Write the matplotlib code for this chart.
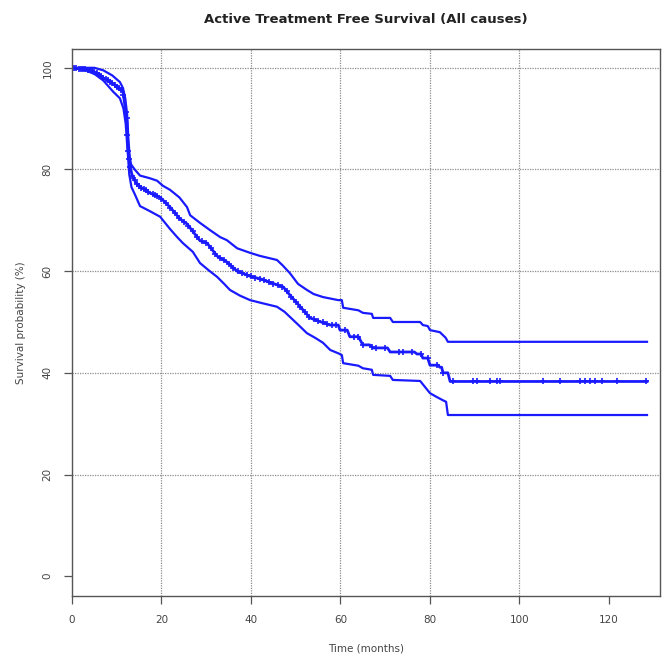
import matplotlib
matplotlib.use("Agg")
import matplotlib.pyplot as plt
import numpy as np

# ---- data ----
est_t = [0, 2, 4, 5.5, 7, 8.5, 10, 11.4, 11.8, 12.3, 12.5, 13, 13.4, 14.2, 15.2, 17.4, 19.7, 21.9,
         24.1, 25.7, 28.6, 30.2, 32.4, 34.6, 36.9, 39.8, 42, 44.9, 47.2, 48.5, 50.3, 53.2, 55,
         57.7, 59.5, 59.9, 61.5, 62.1, 64, 65, 66.5, 67.3, 70.5, 71.1, 76.5, 77.1, 78, 78.4, 79.5,
         80, 81.8, 82.2, 82.6, 82.9, 84, 84.5, 128.5]
est_s = [100, 99.8, 99.6, 99, 98, 97.3, 96.3, 95.3, 92.7, 89.4, 84.3, 80.5, 79, 77.5, 76.6, 75.4,
         74.5, 72.6, 70.3, 69.3, 66, 65.5, 63, 61.8, 60, 59, 58.5, 57.6, 56.9, 55.5, 53.7, 50.8,
         50.2, 49.4, 49.4, 48.4, 48.4, 47.1, 47.1, 45.5, 45.5, 44.9, 44.9, 44.1, 44.1, 43.7, 43.7,
         42.9, 42.9, 41.5, 41.5, 41.1, 41.1, 40, 40, 38.3, 38.3]

up_t = [0, 5, 7, 9, 10.7, 11.4, 11.9, 12.3, 12.6, 12.9, 13.2, 14, 15.2, 17.3, 19, 20.3, 21.9, 24,
        25.7, 26.4, 28.6, 30.8, 33.1, 34.6, 36.9, 39.8, 42, 45.8, 47, 48.7, 50.5, 52.5, 54, 56.1,
        59.5, 60.3, 60.6, 64, 65, 67, 67.3, 71.1, 71.7, 77.8, 78.4, 79.5, 80, 82.2, 83.5, 84,
        128.5]
up_s = [100, 100, 99.5, 98.5, 97.2, 96, 94, 91, 86, 82.5, 81, 80, 78.8, 78.3, 77.8, 76.8, 76, 74.5,
        72.6, 71, 69.5, 68.1, 66.7, 66.1, 64.5, 63.6, 63, 62.2, 61.2, 59.6, 57.5, 56.3, 55.5, 54.9,
        54.3, 54.3, 52.8, 52.3, 51.8, 51.6, 50.8, 50.8, 50, 50, 49.4, 49.2, 48.4, 48, 46.9, 46.1,
        46.1]

lo_t = [0, 3, 5, 7, 9.2, 10.7, 11.5, 12, 12.4, 12.8, 13.3, 14, 15.2, 17.4, 19.7, 21.9, 23.5, 24.8,
        27, 28.6, 30.5, 32.4, 34, 35.3, 37.5, 39.8, 42.5, 45.8, 47.5, 48.7, 50.5, 52.5, 54.5, 56.1,
        57.7, 59.6, 60.3, 60.6, 64, 65, 67, 67.3, 71.1, 71.7, 77.8, 78.9, 80, 81.6, 82.9, 83.6, 84,
        128.5]
lo_s = [100, 99.5, 98.8, 97.5, 95.3, 94, 92, 89, 84, 79, 76.5, 75.2, 72.8, 71.8, 70.7, 68.3, 66.7,
        65.5, 63.8, 61.6, 60.2, 58.9, 57.5, 56.3, 55.2, 54.3, 53.7, 53, 52, 51, 49.5, 47.8, 46.8,
        45.9, 44.5, 43.8, 43.5, 41.9, 41.4, 40.9, 40.6, 39.6, 39.4, 38.6, 38.4, 37.2, 36, 35.2,
        34.6, 34.3, 31.7, 31.7]

censor_t = [0.5, 1, 1.5, 2, 2.5, 3, 3.5, 4, 4.5, 5, 5.5, 6, 6.5, 7, 7.5, 8, 8.5, 9, 9.5, 10, 10.5,
            11, 11.5, 12, 12.2, 12.4, 12.6, 12.8, 13, 13.5, 14, 14.5, 15, 15.5, 16, 16.5, 17, 18,
            18.5, 19, 20, 21, 22, 23, 24, 25, 26, 27, 28, 29, 30, 31, 32, 33, 34, 35, 36, 37, 38,
            39, 40, 41, 42, 43, 44, 45, 46, 47, 48, 49, 50, 51, 52, 53, 54, 55, 56, 57, 58, 59,
            61, 63, 64, 65, 67, 68, 70, 73, 74, 76, 78, 79.5, 81.5, 83, 85.2, 89.6, 90.5, 93.4,
            95, 95.6, 105.3, 109, 113.5, 114.6, 115.7, 116.9, 118.4, 121.8, 128.3]

x_ticks = [0, 20, 40, 60, 80, 100, 120]
y_ticks = [0, 20, 40, 60, 80, 100]

title = "Active Treatment Free Survival (All causes)"
xlabel = "Time (months)"
ylabel = "Survival probability (%)"

# ---- plot ----
fig = plt.figure(figsize=(6.65, 6.58), dpi=100)
ax = fig.add_axes([72/665, 62/658, 588/665, 547/658])

blue = "#1a1aff"
grid_c = "#8c8c8c"
for gx in [20, 40, 60, 80, 100]:
    ax.axvline(gx, color=grid_c, lw=0.9, ls=(0, (1, 1)), zorder=0)
for gy in [20, 40, 60, 80, 100]:
    ax.axhline(gy, color=grid_c, lw=0.9, ls=(0, (1, 1)), zorder=0)

ax.plot(up_t, up_s, color=blue, lw=1.6)
ax.plot(lo_t, lo_s, color=blue, lw=1.6)
ax.plot(est_t, est_s, color=blue, lw=2.0)

cy = np.interp(censor_t, est_t, est_s)
ax.plot(censor_t, cy, ls="none", marker="+", ms=5, mew=1.2, color=blue)

ax.set_xlim(0, 131.4)
ax.set_ylim(-3.9, 103.7)
ax.set_xticks(x_ticks)
ax.set_yticks(y_ticks)
ax.set_yticklabels([str(v) for v in y_ticks], rotation=90, va="center")
ax.tick_params(direction="out", length=6, width=0.9, colors="#555555", labelsize=7.5,
               labelcolor="#444444", pad=8)
for sp in ax.spines.values():
    sp.set_color("#555555")
    sp.set_linewidth(1.0)

ax.set_title(title, fontsize=9.5, fontweight="bold", color="#222222", pad=19)
ax.set_xlabel(xlabel, fontsize=7.5, color="#444444", labelpad=13)
ax.set_ylabel(ylabel, fontsize=7.5, color="#444444", labelpad=12)

fig.savefig("out.png", dpi=100)
